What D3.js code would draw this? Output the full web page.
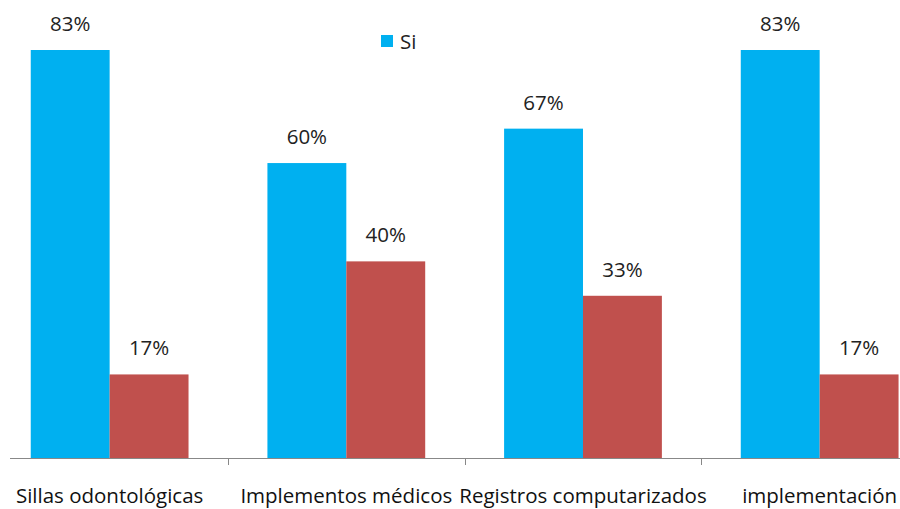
<!DOCTYPE html>
<html><head><meta charset="utf-8">
<script src="https://cdn.jsdelivr.net/npm/d3@7"></script>
<style>body{margin:0;background:#fff}svg{display:block}</style>
</head><body>
<svg id="c" width="900" height="509"></svg>
<script>
const categories = ["Sillas odontológicas","Implementos médicos","Registros computarizados","implementación"];
const seriesNames = ["Si","No"];
const siValues = [83,60,67,83];
const noValues = [17,40,33,17];
const colors = ["#00B0F0","#C0504D"];

const svg = d3.select("#c");
const font = "'Open Sans', sans-serif";
const base = 458;
const x0 = d3.scaleBand().domain(categories).range([-8.7, 938]).paddingInner(0).paddingOuter(0);
const x1 = d3.scaleBand().domain(seriesNames).range([0, x0.bandwidth()]).paddingInner(0).paddingOuter(0.5);
const y = d3.scaleLinear().domain([0, 83]).range([base, 50]);

const data = categories.map((c,i)=>({cat:c, vals:[{s:"Si",v:siValues[i]},{s:"No",v:noValues[i]}]}));

const g = svg.selectAll("g.grp").data(data).join("g").attr("class","grp")
  .attr("transform", d=>`translate(${x0(d.cat)},0)`);
g.selectAll("rect").data(d=>d.vals).join("rect")
  .attr("x", d=>x1(d.s)).attr("width", x1.bandwidth())
  .attr("y", d=>y(d.v)).attr("height", d=>base - y(d.v))
  .attr("fill", (d,i)=>colors[i]);
g.selectAll("text").data(d=>d.vals).join("text")
  .attr("x", d=>x1(d.s)+x1.bandwidth()/2).attr("y", d=>y(d.v)-19)
  .attr("text-anchor","middle").attr("font-family",font).attr("font-size",20.5).attr("fill","#222")
  .text(d=>d.v+"%");

// axis
const axisG = svg.append("g").attr("transform",`translate(0,${base})`);
axisG.append("line").attr("x1",10).attr("x2",900).attr("y1",0.5).attr("y2",0.5).attr("stroke","#888");
axisG.selectAll("line.tick").data(categories.slice(1)).join("line").attr("class","tick")
  .attr("x1",d=>Math.round(x0(d))+0.5).attr("x2",d=>Math.round(x0(d))+0.5).attr("y1",0).attr("y2",7).attr("stroke","#888");
axisG.selectAll("text").data(categories).join("text")
  .attr("x",d=>x0(d)+x0.bandwidth()/2).attr("y",45)
  .attr("text-anchor","middle").attr("font-family",font).attr("font-size",20.5).attr("fill","#111")
  .text(d=>d);

// legend
const lg = svg.append("g");
lg.append("rect").attr("x",381).attr("y",35).attr("width",12).attr("height",12).attr("fill",colors[0]);
lg.append("text").attr("x",400).attr("y",49).attr("font-family",font).attr("font-size",20.5).attr("fill","#222").text(seriesNames[0]);
</script>
</body></html>
